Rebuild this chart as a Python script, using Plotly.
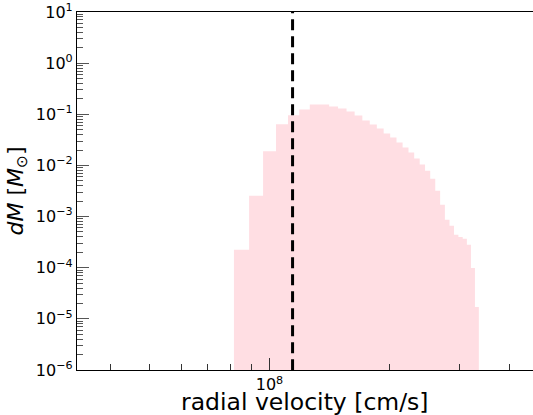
import plotly.graph_objects as go

# Histogram bin edges (cm/s)
bin_edges = [8.145e7, 8.892e7, 9.639e7, 1.0386e8, 1.1133e8, 1.1880e8, 1.2626e8,
             1.3373e8, 1.4120e8, 1.4867e8, 1.5614e8, 1.6361e8, 1.7108e8, 1.7855e8,
             1.8602e8, 1.9349e8, 2.0095e8, 2.0842e8, 2.1589e8, 2.2336e8, 2.3083e8,
             2.3830e8, 2.4577e8, 2.5324e8, 2.6071e8, 2.6818e8, 2.7564e8, 2.8311e8,
             2.9058e8, 2.9805e8, 3.0552e8, 3.1299e8, 3.2046e8, 3.2793e8, 3.3540e8]
# dM per bin (solar masses)
dM = [2.24e-4, 2.56e-3, 1.89e-2, 6.4e-2, 9.6e-2, 0.124, 0.156, 0.156, 0.142, 0.130,
      0.113, 0.0945, 0.0755, 0.063, 0.0526, 0.042, 0.0351, 0.028, 0.0223, 0.0178,
      0.0136, 0.0104, 7.9e-3, 5.5e-3, 3.2e-3, 1.71e-3, 8.7e-4, 6.6e-4, 4.4e-4,
      4.0e-4, 3.7e-4, 2.8e-4, 9.9e-5, 1.71e-5]
v_marker = 1.143e8
floor_val = 1e-8

y_tickvals = [1e-6, 1e-5, 1e-4, 1e-3, 1e-2, 1e-1, 1e0, 1e1]
y_ticktext = ["10<sup>−6</sup>", "10<sup>−5</sup>", "10<sup>−4</sup>", "10<sup>−3</sup>",
              "10<sup>−2</sup>", "10<sup>−1</sup>", "10<sup>0</sup>", "10<sup>1</sup>"]
x_tickvals = [1e8]
x_ticktext = ["10<sup>8</sup>"]
x_minor = [4e7, 5e7, 6e7, 7e7, 8e7, 9e7, 2e8, 3e8, 4e8]
y_minor = [m * 10.0 ** e for e in range(-6, 1) for m in range(2, 10)]

x_title = "radial velocity [cm/s]"
y_title = "<i>dM</i> [<i>M</i><sub>⊙</sub>]"

# step polygon
xs, ys = [bin_edges[0]], [floor_val]
for i, h in enumerate(dM):
    xs += [bin_edges[i], bin_edges[i + 1]]
    ys += [h, h]
xs.append(bin_edges[-1]); ys.append(floor_val)

fig = go.Figure()
fig.add_trace(go.Scatter(x=xs, y=ys, mode="lines", fill="toself",
                         fillcolor="#FFDEE3", line=dict(width=0, color="#FFDEE3"),
                         hoverinfo="skip", showlegend=False))
fig.add_trace(go.Scatter(x=[v_marker, v_marker], y=[1e-8, 1e3], mode="lines",
                         line=dict(color="black", width=3, dash="11px,6px"),
                         showlegend=False))

font = "DejaVu Sans"
fig.update_layout(
    width=533, height=415,
    margin=dict(l=77, r=0, t=12, b=45),
    plot_bgcolor="white", paper_bgcolor="white",
    font=dict(family=font, color="black", size=16),
    xaxis=dict(type="log", range=[7.517, 8.6615], showgrid=False, zeroline=False,
               showline=True, linecolor="black", linewidth=1.2, mirror=True,
               ticks="inside", ticklen=12, tickwidth=1, tickcolor="#333",
               tickvals=x_tickvals, ticktext=x_ticktext,
               tickfont=dict(size=16, family=font),
               minor=dict(ticks="inside", ticklen=6, tickwidth=1, tickcolor="#333",
                          tickvals=x_minor, showgrid=False)),
    yaxis=dict(type="log", range=[-6, 1], showgrid=False, zeroline=False,
               showline=True, linecolor="black", linewidth=1.2, mirror=False,
               ticks="inside", ticklen=12, tickwidth=1, tickcolor="#555",
               tickvals=y_tickvals, ticktext=y_ticktext,
               tickfont=dict(size=16, family=font),
               minor=dict(ticks="inside", ticklen=6, tickwidth=1, tickcolor="#555",
                          tickvals=y_minor, showgrid=False),
               title=dict(text=y_title, font=dict(size=22, family=font), standoff=6)),
    annotations=[dict(text=x_title, xref="paper", yref="paper", x=0.5, y=0,
                      xanchor="center", yanchor="top", yshift=-16, showarrow=False,
                      font=dict(size=23.5, family=font, color="black"))],
)
fig.write_html("out.html")
